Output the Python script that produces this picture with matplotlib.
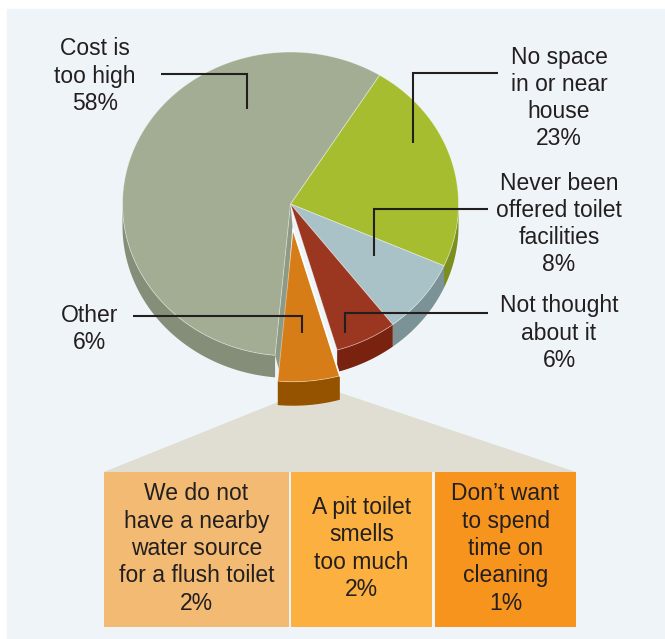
import numpy as np
import matplotlib

matplotlib.use("Agg")
import matplotlib.pyplot as plt
from matplotlib.patches import Polygon, Rectangle

plt.rcParams["font.family"] = ["Liberation Sans", "DejaVu Sans"]

# Reasons for not having a toilet, in slice order (clockwise from top right)
reasons = [
    "No space\nin or near\nhouse",
    "Never been\noffered toilet\nfacilities",
    "Not thought\nabout it",
    "Other",
    "Cost is\ntoo high",
]
shares = [23, 8, 6, 6, 58]
face_colors = ["#A5BD2E", "#A8C2C7", "#9B3620", "#D67D17", "#A3AD93"]
side_colors = ["#7B8F20", "#7B9297", "#7A2210", "#955300", "#858E78"]
explode = [0, 0, 0, 0.17, 0]

# Breakdown of the "Other" slice
other_reasons = [
    "We do not\nhave a nearby\nwater source\nfor a flush toilet",
    "A pit toilet\nsmells\ntoo much",
    "Don\u2019t want\nto spend\ntime on\ncleaning",
]
other_shares = [2, 2, 1]
other_colors = ["#F2BA72", "#FBB040", "#F7941E"]

W, H = 665, 639
CX, CY = 290.5, 204
RX, RY = 168, 152
DEPTH = 22
START = 32  # degrees clockwise from 12 o'clock
TEXT = "#231F20"
FS = 16.5
LS = 1.24


def arc(cx, cy, t0, t1):
    t = np.radians(np.linspace(t0, t1, max(2, int(abs(t1 - t0)) + 2)))
    return np.column_stack([cx + RX * np.sin(t), cy - RY * np.cos(t)])


fig = plt.figure(figsize=(W / 100, H / 100), dpi=100)
ax = fig.add_axes([0, 0, 1, 1])
ax.set_xlim(0, W)
ax.set_ylim(H, 0)
ax.axis("off")

ax.add_patch(Rectangle((7, 9), W - 7, H - 9, color="#EEF4F7", zorder=0))

# fan linking the exploded slice to the breakdown boxes
ax.add_patch(Polygon([(283, 400), (338, 392), (576, 472), (104, 472)],
                     closed=True, color="#E0DDD3", lw=0, zorder=1))

sweep = np.array(shares) / sum(shares) * 360
edges = START + np.concatenate([[0], np.cumsum(sweep)])

for i in range(len(shares)):
    t0, t1 = edges[i], edges[i + 1]
    mid = np.radians((t0 + t1) / 2)
    cx = CX + explode[i] * RX * np.sin(mid)
    cy = CY - explode[i] * RY * np.cos(mid)
    z = 5 if explode[i] else 2

    # visible outer wall (front half of the pie)
    a, b = max(t0, 90), min(t1, 270)
    if b > a:
        top = arc(cx, cy, a, b)
        bot = top + [0, DEPTH + 2 * bool(explode[i])]
        ax.add_patch(Polygon(np.vstack([top, bot[::-1]]), closed=True,
                             color=side_colors[i], lw=0, zorder=z))

    # inner wall exposed by the exploded neighbour
    if i > 0 and explode[i - 1] and not explode[i]:
        p = arc(cx, cy, t0, t0)[0]
        wall = [(cx, cy), tuple(p), (p[0] + 6, p[1] + DEPTH), (cx + 2, cy + DEPTH)]
        ax.add_patch(Polygon(wall, closed=True, color="#8F9A84", lw=0, zorder=z))

    face = np.vstack([[cx, cy], arc(cx, cy, t0, t1)])
    ax.add_patch(Polygon(face, closed=True, facecolor=face_colors[i],
                         edgecolor=(1, 1, 1, 0.45), lw=0.6, zorder=z + 1))

# white seam along the exploded slice's edge
for i in range(len(shares)):
    if explode[i]:
        mid = np.radians((edges[i] + edges[i + 1]) / 2)
        cx = CX + explode[i] * RX * np.sin(mid)
        cy = CY - explode[i] * RY * np.cos(mid)
        p = arc(cx, cy, edges[i], edges[i])[0]
        ax.plot([cx, p[0]], [cy, p[1]], color="white", lw=1.2, zorder=7)

# callout leaders
leaders = [
    [(497.5, 72.7), (413, 72.7), (413, 143)],
    [(488, 209), (374, 209), (374, 256)],
    [(488, 312.5), (345, 312.5), (345, 333)],
    [(133, 315.7), (302.3, 315.7), (302.3, 333)],
    [(161, 73.5), (246.5, 73.5), (246.5, 109)],
]
for pts in leaders:
    xs, ys = zip(*pts)
    ax.plot(xs, ys, color=TEXT, lw=1.5, solid_capstyle="butt",
            solid_joinstyle="miter", zorder=8)

label_pos = [(559, 98), (559, 224), (559, 333), (90, 329), (95, 76)]
for lab, v, (x, y) in zip(reasons, shares, label_pos):
    ax.text(x, y, f"{lab}\n{v}%", ha="center", va="center", fontsize=FS,
            color=TEXT, linespacing=LS, zorder=9)

# breakdown boxes
box_x = [(104, 289), (291, 432), (435, 576)]
box_top, box_bot = 472, 627
for lab, v, c, (x0, x1) in zip(other_reasons, other_shares, other_colors, box_x):
    ax.add_patch(Rectangle((x0, box_top), x1 - x0, box_bot - box_top,
                           color=c, lw=0, zorder=3))
    ax.text((x0 + x1) / 2, (box_top + box_bot) / 2 - 1, f"{lab}\n{v}%",
            ha="center", va="center", fontsize=FS, color=TEXT,
            linespacing=LS, zorder=9)

fig.savefig("out.png", dpi=100)
